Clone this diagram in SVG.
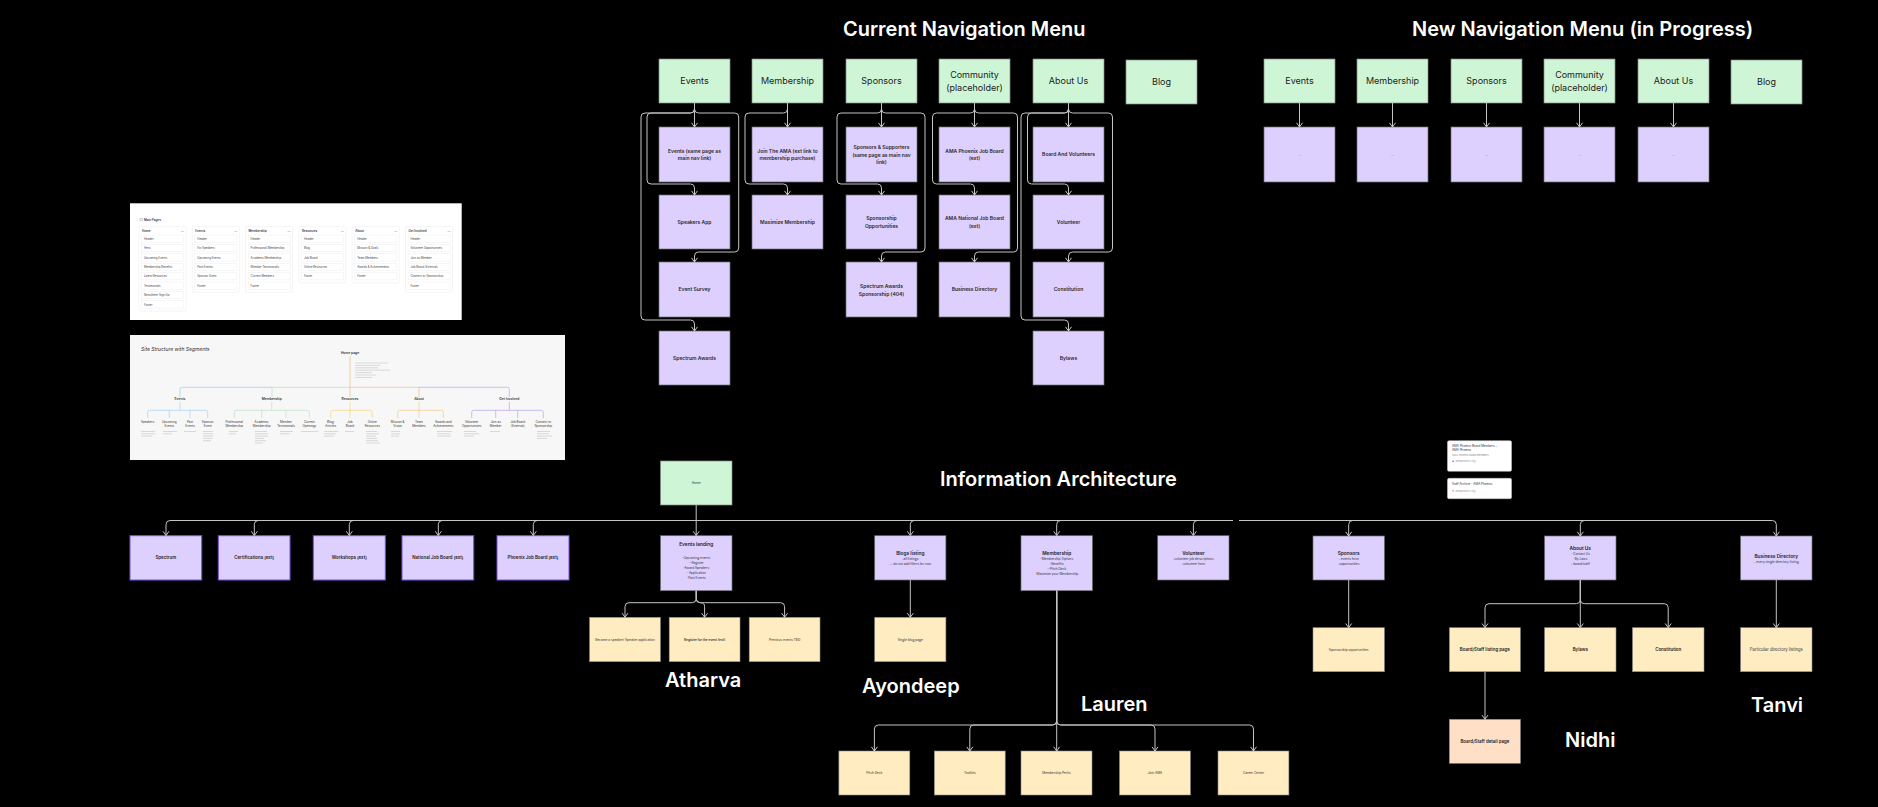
<svg xmlns="http://www.w3.org/2000/svg" width="1878" height="807" viewBox="0 0 1878 807">
<defs>
<style>
text{font-family:Inter,"Liberation Sans",sans-serif}
.ttl{font-size:20px;font-weight:600;fill:#fff}
.nm{font-size:20px;font-weight:600;fill:#fff}
.nv{fill:#CEF5D6;stroke:#8a8a8a;stroke-width:.7}
.pp{fill:#DDD0FF;stroke:#6e6e6e;stroke-width:.7}
.pb{fill:#DDD0FF;stroke:#7B4FE6;stroke-width:1}
.by{fill:#FFECC1;stroke:#8a8a8a;stroke-width:.6}
.pc{fill:#FFDFC6;stroke:#8a8a8a;stroke-width:.6}
.nl{font-size:9px;fill:#222;text-anchor:middle}
.cl{font-size:5px;font-weight:600;fill:#2a2a2a;text-anchor:middle}
.ht{font-size:4.8px;font-weight:600;fill:#222;text-anchor:middle}
.hb{font-size:4.4px;font-weight:600;fill:#222;text-anchor:middle}
.hs{font-size:3.2px;fill:#333;text-anchor:middle}
.dots{font-size:3px;fill:#666;text-anchor:middle}
.ln{fill:none;stroke:#c4c4c4;stroke-width:1}
.card{fill:#fff;stroke:#e3e3e3;stroke-width:.4}
.it{fill:#fff;stroke:#e6e6e6;stroke-width:.35}
.p1{font-size:2.8px;fill:#444}
.p1h{font-size:3px;font-weight:600;fill:#333}
.p2{font-size:3px;fill:#333;text-anchor:middle}
.p2h{font-size:3.3px;font-weight:600;fill:#333;text-anchor:middle}
.gl{stroke:#b8b8b8;stroke-width:.5}
</style>
<marker id="ar" markerWidth="8" markerHeight="8" viewBox="0 0 8 8" refX="7" refY="4" orient="auto" markerUnits="userSpaceOnUse">
<path d="M2.8,1 L7,4 L2.8,7" fill="none" stroke="#c8c8c8" stroke-width="1"/>
</marker>
<marker id="ars" markerWidth="4" markerHeight="4" viewBox="0 0 4 4" refX="3.5" refY="2" orient="auto" markerUnits="userSpaceOnUse">
<path d="M1,.4 L3.5,2 L1,3.6" fill="none" stroke="context-stroke" stroke-width=".5"/>
</marker>
</defs>
<rect width="1878" height="807" fill="#000"/>

<!-- Titles -->
<text class="ttl" x="843" y="36">Current Navigation Menu</text>
<text class="ttl" x="1412" y="36">New Navigation Menu (in Progress)</text>
<text class="ttl" x="940" y="486">Information Architecture</text>

<!-- Current nav: top -->
<g id="cur-nav-events"><rect class="nv" x="659" y="59" width="71" height="44"/><text class="nl" x="694.5" y="84.3">Events</text></g>
<g id="cur-nav-membership"><rect class="nv" x="752" y="59" width="71" height="44"/><text class="nl" x="787.5" y="84.3">Membership</text></g>
<g id="cur-nav-sponsors"><rect class="nv" x="846" y="59" width="71" height="44"/><text class="nl" x="881.5" y="84.3">Sponsors</text></g>
<g id="cur-nav-community"><rect class="nv" x="939" y="59" width="71" height="44"/><text class="nl" x="974.5" y="77.9">Community</text><text class="nl" x="974.5" y="90.5">(placeholder)</text></g>
<g id="cur-nav-about"><rect class="nv" x="1033" y="59" width="71" height="44"/><text class="nl" x="1068.5" y="84.3">About Us</text></g>
<g id="cur-nav-blog"><rect class="nv" x="1126" y="60" width="71" height="44"/><text class="nl" x="1161.5" y="85.3">Blog</text></g>

<!-- Current nav: children -->
<g id="cur-events-page"><rect class="pp" x="659" y="127" width="71" height="55"/><text class="cl" x="694.5" y="152.5">Events (same page as</text><text class="cl" x="694.5" y="160.1">main nav link)</text></g>
<g id="cur-speakers-app"><rect class="pp" x="659" y="195" width="71" height="54"/><text class="cl" x="694.5" y="223.8">Speakers App</text></g>
<g id="cur-event-survey"><rect class="pp" x="659" y="262" width="71" height="55"/><text class="cl" x="694.5" y="291.3">Event Survey</text></g>
<g id="cur-spectrum-awards"><rect class="pp" x="659" y="331" width="71" height="54"/><text class="cl" x="694.5" y="359.8">Spectrum Awards</text></g>

<g id="cur-join"><rect class="pp" x="752" y="127" width="71" height="55"/><text class="cl" x="787.5" y="152.5">Join The AMA (ext link to</text><text class="cl" x="787.5" y="160.1">membership purchase)</text></g>
<g id="cur-maximize"><rect class="pp" x="752" y="195" width="71" height="54"/><text class="cl" x="787.5" y="223.8">Maximize Membership</text></g>

<g id="cur-sponsors-page"><rect class="pp" x="846" y="127" width="71" height="55"/><text class="cl" x="881.5" y="148.8">Sponsors &amp; Supporters</text><text class="cl" x="881.5" y="156.5">(same page as main nav</text><text class="cl" x="881.5" y="164.1">link)</text></g>
<g id="cur-sponsorship-opps"><rect class="pp" x="846" y="195" width="71" height="54"/><text class="cl" x="881.5" y="219.8">Sponsorship</text><text class="cl" x="881.5" y="227.5">Opportunities</text></g>
<g id="cur-spectrum-sponsorship"><rect class="pp" x="846" y="262" width="71" height="55"/><text class="cl" x="881.5" y="287.8">Spectrum Awards</text><text class="cl" x="881.5" y="295.5">Sponsorship (404)</text></g>

<g id="cur-phx-job"><rect class="pp" x="939" y="127" width="71" height="55"/><text class="cl" x="974.5" y="152.5">AMA Phoenix Job Board</text><text class="cl" x="974.5" y="160.1">(ext)</text></g>
<g id="cur-nat-job"><rect class="pp" x="939" y="195" width="71" height="54"/><text class="cl" x="974.5" y="219.8">AMA National Job Board</text><text class="cl" x="974.5" y="227.5">(ext)</text></g>
<g id="cur-business-dir"><rect class="pp" x="939" y="262" width="71" height="55"/><text class="cl" x="974.5" y="291.3">Business Directory</text></g>

<g id="cur-board"><rect class="pp" x="1033" y="127" width="71" height="55"/><text class="cl" x="1068.5" y="156.1">Board And Volunteers</text></g>
<g id="cur-volunteer"><rect class="pp" x="1033" y="195" width="71" height="54"/><text class="cl" x="1068.5" y="223.8">Volunteer</text></g>
<g id="cur-constitution"><rect class="pp" x="1033" y="262" width="71" height="55"/><text class="cl" x="1068.5" y="291.3">Constitution</text></g>
<g id="cur-bylaws"><rect class="pp" x="1033" y="331" width="71" height="54"/><text class="cl" x="1068.5" y="359.8">Bylaws</text></g>

<!-- New nav -->
<g id="new-nav-events"><rect class="nv" x="1264" y="59" width="71" height="44"/><text class="nl" x="1299.5" y="84.3">Events</text></g>
<g id="new-nav-membership"><rect class="nv" x="1357" y="59" width="71" height="44"/><text class="nl" x="1392.5" y="84.3">Membership</text></g>
<g id="new-nav-sponsors"><rect class="nv" x="1451" y="59" width="71" height="44"/><text class="nl" x="1486.5" y="84.3">Sponsors</text></g>
<g id="new-nav-community"><rect class="nv" x="1544" y="59" width="71" height="44"/><text class="nl" x="1579.5" y="77.9">Community</text><text class="nl" x="1579.5" y="90.5">(placeholder)</text></g>
<g id="new-nav-about"><rect class="nv" x="1638" y="59" width="71" height="44"/><text class="nl" x="1673.5" y="84.3">About Us</text></g>
<g id="new-nav-blog"><rect class="nv" x="1731" y="60" width="71" height="44"/><text class="nl" x="1766.5" y="85.3">Blog</text></g>
<g id="new-events-sub"><rect class="pp" x="1264" y="127" width="71" height="55"/><text class="dots" x="1299.5" y="155.5">...</text></g>
<g id="new-membership-sub"><rect class="pp" x="1357" y="127" width="71" height="55"/><text class="dots" x="1392.5" y="155.5">...</text></g>
<g id="new-sponsors-sub"><rect class="pp" x="1451" y="127" width="71" height="55"/><text class="dots" x="1486.5" y="155.5">...</text></g>
<g id="new-community-sub"><rect class="pp" x="1544" y="127" width="71" height="55"/><text class="dots" x="1579.5" y="155.5">...</text></g>
<g id="new-about-sub"><rect class="pp" x="1638" y="127" width="71" height="55"/><text class="dots" x="1673.5" y="155.5">...</text></g>

<!-- Panel 1: Main Pages screenshot -->
<g id="panel-main-pages">
<rect x="130" y="203.3" width="331.7" height="116.7" fill="#fff"/>
<rect x="140" y="218.3" width="2.6" height="2.6" fill="none" stroke="#888" stroke-width=".35"/>
<text class="p1h" x="144" y="221">Main Pages</text>
<g transform="translate(139,0)">
<rect class="card" x="0" y="226.7" width="47" height="84.4" rx="1"/>
<text class="p1h" x="3" y="231.6">Home</text><text class="p1" x="42" y="231.6">—</text>
<rect class="it" x="2.5" y="235" width="42" height="7.3"/><text class="p1" x="5" y="239.8">Header</text>
<rect class="it" x="2.5" y="244.4" width="42" height="7.3"/><text class="p1" x="5" y="249.2">Hero</text>
<rect class="it" x="2.5" y="253.8" width="42" height="7.3"/><text class="p1" x="5" y="258.6">Upcoming Events</text>
<rect class="it" x="2.5" y="263.2" width="42" height="7.3"/><text class="p1" x="5" y="268">Membership Benefits</text>
<rect class="it" x="2.5" y="272.6" width="42" height="7.3"/><text class="p1" x="5" y="277.4">Latest Resources</text>
<rect class="it" x="2.5" y="282" width="42" height="7.3"/><text class="p1" x="5" y="286.8">Testimonials</text>
<rect class="it" x="2.5" y="291.4" width="42" height="7.3"/><text class="p1" x="5" y="296.2">Newsletter Sign Up</text>
<rect class="it" x="2.5" y="300.8" width="42" height="7.3"/><text class="p1" x="5" y="305.6">Footer</text>
</g>
<g transform="translate(192.3,0)">
<rect class="card" x="0" y="226.7" width="47" height="65.6" rx="1"/>
<text class="p1h" x="3" y="231.6">Events</text><text class="p1" x="42" y="231.6">—</text>
<rect class="it" x="2.5" y="235" width="42" height="7.3"/><text class="p1" x="5" y="239.8">Header</text>
<rect class="it" x="2.5" y="244.4" width="42" height="7.3"/><text class="p1" x="5" y="249.2">For Speakers</text>
<rect class="it" x="2.5" y="253.8" width="42" height="7.3"/><text class="p1" x="5" y="258.6">Upcoming Events</text>
<rect class="it" x="2.5" y="263.2" width="42" height="7.3"/><text class="p1" x="5" y="268">Past Events</text>
<rect class="it" x="2.5" y="272.6" width="42" height="7.3"/><text class="p1" x="5" y="277.4">Sponsor Event</text>
<rect class="it" x="2.5" y="282" width="42" height="7.3"/><text class="p1" x="5" y="286.8">Footer</text>
</g>
<g transform="translate(245.6,0)">
<rect class="card" x="0" y="226.7" width="47" height="65.6" rx="1"/>
<text class="p1h" x="3" y="231.6">Membership</text><text class="p1" x="42" y="231.6">—</text>
<rect class="it" x="2.5" y="235" width="42" height="7.3"/><text class="p1" x="5" y="239.8">Header</text>
<rect class="it" x="2.5" y="244.4" width="42" height="7.3"/><text class="p1" x="5" y="249.2">Professional Membership</text>
<rect class="it" x="2.5" y="253.8" width="42" height="7.3"/><text class="p1" x="5" y="258.6">Academic Membership</text>
<rect class="it" x="2.5" y="263.2" width="42" height="7.3"/><text class="p1" x="5" y="268">Member Testimonials</text>
<rect class="it" x="2.5" y="272.6" width="42" height="7.3"/><text class="p1" x="5" y="277.4">Current Members</text>
<rect class="it" x="2.5" y="282" width="42" height="7.3"/><text class="p1" x="5" y="286.8">Footer</text>
</g>
<g transform="translate(298.9,0)">
<rect class="card" x="0" y="226.7" width="47" height="56.2" rx="1"/>
<text class="p1h" x="3" y="231.6">Resources</text><text class="p1" x="42" y="231.6">—</text>
<rect class="it" x="2.5" y="235" width="42" height="7.3"/><text class="p1" x="5" y="239.8">Header</text>
<rect class="it" x="2.5" y="244.4" width="42" height="7.3"/><text class="p1" x="5" y="249.2">Blog</text>
<rect class="it" x="2.5" y="253.8" width="42" height="7.3"/><text class="p1" x="5" y="258.6">Job Board</text>
<rect class="it" x="2.5" y="263.2" width="42" height="7.3"/><text class="p1" x="5" y="268">Online Resources</text>
<rect class="it" x="2.5" y="272.6" width="42" height="7.3"/><text class="p1" x="5" y="277.4">Footer</text>
</g>
<g transform="translate(352.2,0)">
<rect class="card" x="0" y="226.7" width="47" height="56.2" rx="1"/>
<text class="p1h" x="3" y="231.6">About</text><text class="p1" x="42" y="231.6">—</text>
<rect class="it" x="2.5" y="235" width="42" height="7.3"/><text class="p1" x="5" y="239.8">Header</text>
<rect class="it" x="2.5" y="244.4" width="42" height="7.3"/><text class="p1" x="5" y="249.2">Mission &amp; Goals</text>
<rect class="it" x="2.5" y="253.8" width="42" height="7.3"/><text class="p1" x="5" y="258.6">Team Members</text>
<rect class="it" x="2.5" y="263.2" width="42" height="7.3"/><text class="p1" x="5" y="268">Awards &amp; Achievements</text>
<rect class="it" x="2.5" y="272.6" width="42" height="7.3"/><text class="p1" x="5" y="277.4">Footer</text>
</g>
<g transform="translate(405.5,0)">
<rect class="card" x="0" y="226.7" width="47" height="65.6" rx="1"/>
<text class="p1h" x="3" y="231.6">Get Involved</text><text class="p1" x="42" y="231.6">—</text>
<rect class="it" x="2.5" y="235" width="42" height="7.3"/><text class="p1" x="5" y="239.8">Header</text>
<rect class="it" x="2.5" y="244.4" width="42" height="7.3"/><text class="p1" x="5" y="249.2">Volunteer Opportunities</text>
<rect class="it" x="2.5" y="253.8" width="42" height="7.3"/><text class="p1" x="5" y="258.6">Join as Member</text>
<rect class="it" x="2.5" y="263.2" width="42" height="7.3"/><text class="p1" x="5" y="268">Job Board (External)</text>
<rect class="it" x="2.5" y="272.6" width="42" height="7.3"/><text class="p1" x="5" y="277.4">Connect w/ Sponsorship</text>
<rect class="it" x="2.5" y="282" width="42" height="7.3"/><text class="p1" x="5" y="286.8">Footer</text>
</g>
</g>

<!-- Panel 2: Site structure screenshot -->
<g id="panel-site-structure">
<rect x="130" y="335" width="435" height="125" fill="#F7F7F7"/>
<text x="141" y="351" font-size="5" font-style="italic" fill="#333">Site Structure with Segments</text>
<text class="p2h" x="350" y="354" font-size="4.2">Home page</text>
<line x1="350" y1="356" x2="350" y2="397" stroke="#F6C58A" stroke-width=".8"/>
<g class="gl">
<line x1="355" y1="363" x2="388" y2="363"/><line x1="355" y1="365.4" x2="380" y2="365.4"/><line x1="355" y1="367.8" x2="378" y2="367.8"/><line x1="355" y1="370.2" x2="390" y2="370.2"/><line x1="355" y1="372.6" x2="372" y2="372.6"/><line x1="355" y1="375" x2="376" y2="375"/><line x1="355" y1="377.4" x2="372" y2="377.4"/>
</g>
<path d="M180,397 V389.3 Q180,387.3 182,387.3 H272" fill="none" stroke="#A6D0F2" stroke-width=".8"/>
<path d="M272,387.3 H350 M272,387.3 V397" fill="none" stroke="#BDE3BF" stroke-width=".8"/>
<path d="M350,387.3 H419 V397" fill="none" stroke="#F6C58A" stroke-width=".8"/>
<path d="M419,387.3 H507.3 Q509.3,387.3 509.3,389.3 V397" fill="none" stroke="#C5B0F3" stroke-width=".8"/>
<text class="p2h" x="180" y="400.3">Events</text>
<text class="p2h" x="271.7" y="400.3">Membership</text>
<text class="p2h" x="350" y="400.3">Resources</text>
<text class="p2h" x="419" y="400.3">About</text>
<text class="p2h" x="509.3" y="400.3">Get Involved</text>
<g fill="none" stroke-width=".7">
<path stroke="#A6D0F2" d="M180,402 V410.3 M147.7,418 V412.3 Q147.7,410.3 149.7,410.3 H205.7 Q207.7,410.3 207.7,412.3 V418 M169.3,410.3 V418 M190,410.3 V418"/>
<path stroke="#BDE3BF" d="M271.7,402 V410.3 M234.3,418 V412.3 Q234.3,410.3 236.3,410.3 H307.3 Q309.3,410.3 309.3,412.3 V418 M261.7,410.3 V418 M286,410.3 V418"/>
<path stroke="#F5D67C" d="M350,402 V418 M330.7,418 V412.3 Q330.7,410.3 332.7,410.3 H370.3 Q372.3,410.3 372.3,412.3 V418"/>
<path stroke="#F6C58A" d="M419,402 V418 M397.7,418 V412.3 Q397.7,410.3 399.7,410.3 H441.3 Q443.3,410.3 443.3,412.3 V418"/>
<path stroke="#B9A0F2" d="M509.3,402 V410.3 M471.7,418 V412.3 Q471.7,410.3 473.7,410.3 H541.3 Q543.3,410.3 543.3,412.3 V418 M495.7,410.3 V418 M517.7,410.3 V418"/>
</g>
<g>
<text class="p2" x="147.7" y="422.5">Speakers</text>
<text class="p2" x="169.3" y="422.5">Upcoming</text><text class="p2" x="169.3" y="426.8">Events</text>
<text class="p2" x="190" y="422.5">Past</text><text class="p2" x="190" y="426.8">Events</text>
<text class="p2" x="207.7" y="422.5">Sponsor</text><text class="p2" x="207.7" y="426.8">Event</text>
<text class="p2" x="234.3" y="422.5">Professional</text><text class="p2" x="234.3" y="426.8">Membership</text>
<text class="p2" x="261.7" y="422.5">Academic</text><text class="p2" x="261.7" y="426.8">Membership</text>
<text class="p2" x="286" y="422.5">Member</text><text class="p2" x="286" y="426.8">Testimonials</text>
<text class="p2" x="309.3" y="422.5">Current</text><text class="p2" x="309.3" y="426.8">Openings</text>
<text class="p2" x="330.7" y="422.5">Blog/</text><text class="p2" x="330.7" y="426.8">Articles</text>
<text class="p2" x="350" y="422.5">Job</text><text class="p2" x="350" y="426.8">Board</text>
<text class="p2" x="372.3" y="422.5">Online</text><text class="p2" x="372.3" y="426.8">Resources</text>
<text class="p2" x="397.7" y="422.5">Mission &amp;</text><text class="p2" x="397.7" y="426.8">Vision</text>
<text class="p2" x="419" y="422.5">Team</text><text class="p2" x="419" y="426.8">Members</text>
<text class="p2" x="443.3" y="422.5">Awards and</text><text class="p2" x="443.3" y="426.8">Achievements</text>
<text class="p2" x="471.7" y="422.5">Volunteer</text><text class="p2" x="471.7" y="426.8">Opportunities</text>
<text class="p2" x="495.7" y="422.5">Join as</text><text class="p2" x="495.7" y="426.8">Member</text>
<text class="p2" x="517.7" y="422.5">Job Board</text><text class="p2" x="517.7" y="426.8">(External)</text>
<text class="p2" x="543.3" y="422.5">Connect to</text><text class="p2" x="543.3" y="426.8">Sponsorship</text>
</g>
<g class="gl">
<line x1="141" y1="431.5" x2="155" y2="431.5"/><line x1="141" y1="433.8" x2="155" y2="433.8"/><line x1="141" y1="436.1" x2="152" y2="436.1"/>
<line x1="163" y1="431.5" x2="177" y2="431.5"/><line x1="163" y1="433.8" x2="172" y2="433.8"/>
<line x1="184" y1="431.5" x2="196" y2="431.5"/>
<line x1="203" y1="431.5" x2="213" y2="431.5"/><line x1="203" y1="433.8" x2="213" y2="433.8"/><line x1="203" y1="436.1" x2="213" y2="436.1"/><line x1="203" y1="438.4" x2="212" y2="438.4"/><line x1="203" y1="440.7" x2="211" y2="440.7"/>
<line x1="229" y1="431.5" x2="238" y2="431.5"/><line x1="229" y1="433.8" x2="236" y2="433.8"/>
<line x1="255" y1="431.5" x2="267" y2="431.5"/><line x1="255" y1="433.8" x2="268" y2="433.8"/><line x1="255" y1="436.1" x2="268" y2="436.1"/><line x1="255" y1="438.4" x2="264" y2="438.4"/><line x1="255" y1="440.7" x2="266" y2="440.7"/><line x1="255" y1="443" x2="263" y2="443"/>
<line x1="280" y1="431.5" x2="293" y2="431.5"/><line x1="280" y1="433.8" x2="290" y2="433.8"/>
<line x1="301" y1="431.5" x2="318" y2="431.5"/>
<line x1="324" y1="431.5" x2="338" y2="431.5"/><line x1="324" y1="433.8" x2="336" y2="433.8"/><line x1="324" y1="436.1" x2="334" y2="436.1"/>
<line x1="345" y1="431.5" x2="354" y2="431.5"/>
<line x1="366" y1="431.5" x2="377" y2="431.5"/><line x1="366" y1="433.8" x2="379" y2="433.8"/><line x1="366" y1="436.1" x2="376" y2="436.1"/><line x1="366" y1="438.4" x2="377" y2="438.4"/><line x1="366" y1="440.7" x2="378" y2="440.7"/><line x1="366" y1="443" x2="380" y2="443"/>
<line x1="391" y1="431.5" x2="400" y2="431.5"/><line x1="391" y1="433.8" x2="400" y2="433.8"/><line x1="391" y1="436.1" x2="399" y2="436.1"/>
<line x1="437" y1="431.5" x2="452" y2="431.5"/><line x1="437" y1="433.8" x2="450" y2="433.8"/><line x1="437" y1="436.1" x2="451" y2="436.1"/>
<line x1="464" y1="431.5" x2="476" y2="431.5"/><line x1="464" y1="433.8" x2="479" y2="433.8"/><line x1="464" y1="436.1" x2="474" y2="436.1"/>
<line x1="490" y1="431.5" x2="500" y2="431.5"/>
<line x1="537" y1="431.5" x2="550" y2="431.5"/><line x1="537" y1="433.8" x2="549" y2="433.8"/><line x1="537" y1="436.1" x2="552" y2="436.1"/><line x1="537" y1="438.4" x2="547" y2="438.4"/>
</g>
</g>

<!-- Link preview cards -->
<g id="link-card-board">
<rect x="1447.5" y="440.7" width="64" height="30.6" rx="1.5" fill="#fff" stroke="#cfcfcf" stroke-width=".5"/>
<text x="1452" y="447.2" font-size="3" fill="#333">AMA Phoenix Board Members –</text>
<text x="1452" y="451.2" font-size="3" fill="#333">AMA Phoenix</text>
<text x="1452" y="455.6" font-size="2.6" fill="#888">AMA Phoenix board members</text>
<circle cx="1453" cy="461.3" r=".8" fill="#7B4FE6"/>
<text x="1455.5" y="462.3" font-size="2.6" fill="#999">amaphoenix.org</text>
</g>
<g id="link-card-staff">
<rect x="1447.5" y="478.3" width="64" height="20.4" rx="1.5" fill="#fff" stroke="#cfcfcf" stroke-width=".5"/>
<text x="1452" y="485" font-size="3" fill="#333">Staff Archive - AMA Phoenix</text>
<circle cx="1453" cy="490.8" r=".8" fill="#999"/>
<text x="1455.5" y="491.8" font-size="2.6" fill="#999">amaphoenix.org</text>
</g>

<!-- IA nodes -->
<g id="ia-home"><rect class="nv" x="660.5" y="461" width="71.5" height="44"/><text class="hs" x="696.2" y="484.2" fill="#555">Home</text></g>

<g id="ia-spectrum"><rect class="pb" x="130" y="535.7" width="71.7" height="44.3"/><text class="hb" x="165.8" y="559.4">Spectrum</text></g>
<g id="ia-certifications"><rect class="pb" x="218.3" y="535.7" width="71.7" height="44.3"/><text class="hb" x="254.2" y="559.4">Certifications (ext)</text></g>
<g id="ia-workshops"><rect class="pb" x="313.3" y="535.7" width="72" height="44.3"/><text class="hb" x="349.3" y="559.4">Workshops (ext)</text></g>
<g id="ia-national-job"><rect class="pb" x="402" y="535.7" width="71.7" height="44.3"/><text class="hb" x="437.9" y="559.4">National Job Board (ext)</text></g>
<g id="ia-phoenix-job"><rect class="pb" x="497" y="535.7" width="72" height="44.3"/><text class="hb" x="533" y="559.4">Phoenix Job Board (ext)</text></g>

<g id="ia-events-landing"><rect class="pp" x="660.5" y="535.7" width="71.5" height="55"/>
<text class="ht" x="696.2" y="546">Events landing</text>
<text class="hs" x="696.2" y="559.2">-Upcoming events</text>
<text class="hs" x="696.2" y="564.2">--Register</text>
<text class="hs" x="696.2" y="569.2">-Award Speakers</text>
<text class="hs" x="696.2" y="574.2">- Application</text>
<text class="hs" x="696.2" y="579.2">-Past Events</text></g>

<g id="ia-blogs-listing"><rect class="pp" x="874.7" y="535.7" width="71.2" height="44.3"/>
<text class="ht" x="910.3" y="555">Blogs listing</text>
<text class="hs" x="910.3" y="560.2">-all listings</text>
<text class="hs" x="910.3" y="565.2">-- do not add filters for now</text></g>

<g id="ia-membership"><rect class="pp" x="1021" y="535.7" width="71.4" height="55"/>
<text class="ht" x="1056.7" y="555">Membership</text>
<text class="hs" x="1056.7" y="560.2">-Membership Options</text>
<text class="hs" x="1056.7" y="565.2">-Benefits</text>
<text class="hs" x="1056.7" y="570.2">--Pitch Deck</text>
<text class="hs" x="1056.7" y="575.2">-Maximize your Membership</text></g>

<g id="ia-volunteer"><rect class="pp" x="1157.7" y="535.7" width="71.3" height="44.3"/>
<text class="ht" x="1193.4" y="555">Volunteer</text>
<text class="hs" x="1193.4" y="560.2">-volunteer job descriptions</text>
<text class="hs" x="1193.4" y="565.2">-volunteer form</text></g>

<g id="ia-sponsors"><rect class="pp" x="1313" y="536" width="71.4" height="44"/>
<text class="ht" x="1348.7" y="555">Sponsors</text>
<text class="hs" x="1348.7" y="560.2">- events form</text>
<text class="hs" x="1348.7" y="565.2">-opportunities</text></g>

<g id="ia-about"><rect class="pp" x="1544.6" y="536" width="71.4" height="44"/>
<text class="ht" x="1580.3" y="549.7">About Us</text>
<text class="hs" x="1580.3" y="555">- Contact Us</text>
<text class="hs" x="1580.3" y="560.2">-By Laws</text>
<text class="hs" x="1580.3" y="565.2">- board/staff</text></g>

<g id="ia-business-directory"><rect class="pp" x="1740.6" y="536" width="71.4" height="44"/>
<text class="ht" x="1776.3" y="557.7">Business Directory</text>
<text class="hs" x="1776.3" y="563.2">- every single directory listing</text></g>

<g id="ia-speaker-application"><rect class="by" x="589.6" y="617.3" width="70.8" height="44.4"/><text class="hs" x="625" y="640.7">Become a speaker/ Speaker application</text></g>
<g id="ia-register-event"><rect class="by" x="669.2" y="617.3" width="70.8" height="44.4"/><text class="hs" x="704.6" y="640.7" font-weight="600">Register for the event (ext)</text></g>
<g id="ia-previous-events"><rect class="by" x="749.2" y="617.3" width="70.8" height="44.4"/><text class="hs" x="784.6" y="640.7">Previous events TBD</text></g>
<g id="ia-single-blog"><rect class="by" x="874.7" y="617.3" width="71.2" height="44.4"/><text class="hs" x="910.3" y="640.7">Single blog page</text></g>

<g id="ia-pitch-deck"><rect class="by" x="838.9" y="751" width="70.9" height="44"/><text class="hs" x="874.4" y="774.1">Pitch Deck</text></g>
<g id="ia-toolkits"><rect class="by" x="934.3" y="751" width="70.9" height="44"/><text class="hs" x="969.8" y="774.1">Toolkits</text></g>
<g id="ia-membership-perks"><rect class="by" x="1021" y="751" width="71" height="44"/><text class="hs" x="1056.5" y="774.1">Membership Perks</text></g>
<g id="ia-join-ama"><rect class="by" x="1119.5" y="751" width="70.9" height="44"/><text class="hs" x="1155" y="774.1">Join AMA</text></g>
<g id="ia-career-center"><rect class="by" x="1218" y="751" width="70.9" height="44"/><text class="hs" x="1253.5" y="774.1">Career Center</text></g>

<g id="ia-sponsorship-opps"><rect class="by" x="1313" y="627.7" width="71.4" height="44"/><text class="hs" x="1348.7" y="650.8">Sponsorship opportunities</text></g>
<g id="ia-board-listing"><rect class="by" x="1449.4" y="627.7" width="71" height="44"/><text class="hb" x="1484.9" y="651.3">Board/Staff listing page</text></g>
<g id="ia-bylaws"><rect class="by" x="1544.6" y="627.7" width="71.4" height="44"/><text class="hb" x="1580.3" y="651.3">Bylaws</text></g>
<g id="ia-constitution"><rect class="by" x="1632.5" y="627.7" width="71.5" height="44"/><text class="hb" x="1668.2" y="651.3">Constitution</text></g>
<g id="ia-directory-listings"><rect class="by" x="1740.6" y="627.7" width="71.4" height="44"/><text x="1776.3" y="651.3" font-size="4.2" fill="#333" text-anchor="middle">Particular directory listings</text></g>
<g id="ia-board-detail"><rect class="pc" x="1449.4" y="719.3" width="71" height="44"/><text class="hb" x="1484.9" y="742.9">Board/Staff detail page</text></g>

<!-- Names -->
<text class="nm" x="665" y="687">Atharva</text>
<text class="nm" x="862" y="692.5">Ayondeep</text>
<text class="nm" x="1081" y="711">Lauren</text>
<text class="nm" x="1565" y="747">Nidhi</text>
<text class="nm" x="1751" y="711.5">Tanvi</text>

<!-- Connectors -->
<g id="connectors" class="ln" marker-end="url(#ar)">
<path d="M694.5,103 V127"/>
<path d="M694.5,103 V109 Q694.5,113 690.5,113 H651 Q647,113 647,117 V180 Q647,184 651,184 H690.5 Q694.5,184 694.5,188 V195"/>
<path d="M694.5,103 V109 Q694.5,113 698.5,113 H734.7 Q738.7,113 738.7,117 V248 Q738.7,252 734.7,252 H698.5 Q694.5,252 694.5,256 V262"/>
<path d="M694.5,103 V109 Q694.5,113 690.5,113 H645 Q641,113 641,117 V316 Q641,320 645,320 H690.5 Q694.5,320 694.5,324 V331"/>
<path d="M787.5,103 V127"/>
<path d="M787.5,103 V109 Q787.5,113 783.5,113 H749 Q745,113 745,117 V180 Q745,184 749,184 H783.5 Q787.5,184 787.5,188 V195"/>
<path d="M881.5,103 V127"/>
<path d="M881.5,103 V109 Q881.5,113 877.5,113 H841 Q837,113 837,117 V180 Q837,184 841,184 H877.5 Q881.5,184 881.5,188 V195"/>
<path d="M881.5,103 V109 Q881.5,113 885.5,113 H921 Q925,113 925,117 V248 Q925,252 921,252 H885.5 Q881.5,252 881.5,256 V262"/>
<path d="M974.5,103 V127"/>
<path d="M974.5,103 V109 Q974.5,113 970.5,113 H936.5 Q932.5,113 932.5,117 V180 Q932.5,184 936.5,184 H970.5 Q974.5,184 974.5,188 V195"/>
<path d="M974.5,103 V109 Q974.5,113 978.5,113 H1013.5 Q1017.5,113 1017.5,117 V248 Q1017.5,252 1013.5,252 H978.5 Q974.5,252 974.5,256 V262"/>
<path d="M1068.5,103 V127"/>
<path d="M1068.5,103 V109 Q1068.5,113 1064.5,113 H1031.5 Q1027.5,113 1027.5,117 V180 Q1027.5,184 1031.5,184 H1064.5 Q1068.5,184 1068.5,188 V195"/>
<path d="M1068.5,103 V109 Q1068.5,113 1072.5,113 H1108.5 Q1112.5,113 1112.5,117 V248 Q1112.5,252 1108.5,252 H1072.5 Q1068.5,252 1068.5,256 V262"/>
<path d="M1068.5,103 V109 Q1068.5,113 1064.5,113 H1025 Q1021,113 1021,117 V316 Q1021,320 1025,320 H1064.5 Q1068.5,320 1068.5,324 V331"/>
<path d="M1299.5,103 V127"/>
<path d="M1392.5,103 V127"/>
<path d="M1486.5,103 V127"/>
<path d="M1579.5,103 V127"/>
<path d="M1673.5,103 V127"/>
<path d="M696.2,505 V535.5"/>
<path d="M1233,520.5 H170 Q166,520.5 166,524.5 V535.5"/>
<path d="M258.3,520.5 Q254.3,520.5 254.3,524.5 V535.5"/>
<path d="M353.3,520.5 Q349.3,520.5 349.3,524.5 V535.5"/>
<path d="M442.3,520.5 Q438.3,520.5 438.3,524.5 V535.5"/>
<path d="M537.3,520.5 Q533.3,520.5 533.3,524.5 V535.5"/>
<path d="M914.3,520.5 Q910.3,520.5 910.3,524.5 V535.5"/>
<path d="M1060.7,520.5 Q1056.7,520.5 1056.7,524.5 V535.5"/>
<path d="M1197.4,520.5 Q1193.4,520.5 1193.4,524.5 V535.5"/>
<path d="M1239,520.5 H1772.3 Q1776.3,520.5 1776.3,524.5 V536"/>
<path d="M1352.7,520.5 Q1348.7,520.5 1348.7,524.5 V536"/>
<path d="M1584.3,520.5 Q1580.3,520.5 1580.3,524.5 V536"/>
<path d="M696.2,590.7 V598.7 Q696.2,602.7 692.2,602.7 H629 Q625,602.7 625,606.7 V617.3"/>
<path d="M696.2,590.7 V598.7 Q696.2,602.7 700.2,602.7 H700.4 Q704.6,602.7 704.6,606.7 V617.3"/>
<path d="M696.2,590.7 V598.7 Q696.2,602.7 700.2,602.7 H780.6 Q784.6,602.7 784.6,606.7 V617.3"/>
<path d="M910.3,580 V617.3"/>
<path d="M1056.7,590.7 V721 Q1056.7,725 1052.7,725 H878.4 Q874.4,725 874.4,729 V751"/>
<path d="M1056.7,590.7 V721 Q1056.7,725 1052.7,725 H973.8 Q969.8,725 969.8,729 V751"/>
<path d="M1056.7,590.7 V751"/>
<path d="M1056.7,590.7 V721 Q1056.7,725 1060.7,725 H1151 Q1155,725 1155,729 V751"/>
<path d="M1056.7,590.7 V721 Q1056.7,725 1060.7,725 H1249.5 Q1253.5,725 1253.5,729 V751"/>
<path d="M1348.7,580 V627.7"/>
<path d="M1580.3,580 V599.7 Q1580.3,603.7 1576.3,603.7 H1489 Q1485,603.7 1485,607.7 V627.7"/>
<path d="M1580.3,580 V627.7"/>
<path d="M1580.3,580 V599.7 Q1580.3,603.7 1584.3,603.7 H1664.2 Q1668.2,603.7 1668.2,607.7 V627.7"/>
<path d="M1776.3,580 V627.7"/>
<path d="M1485,671.7 V719.3"/>
</g>
</svg>
